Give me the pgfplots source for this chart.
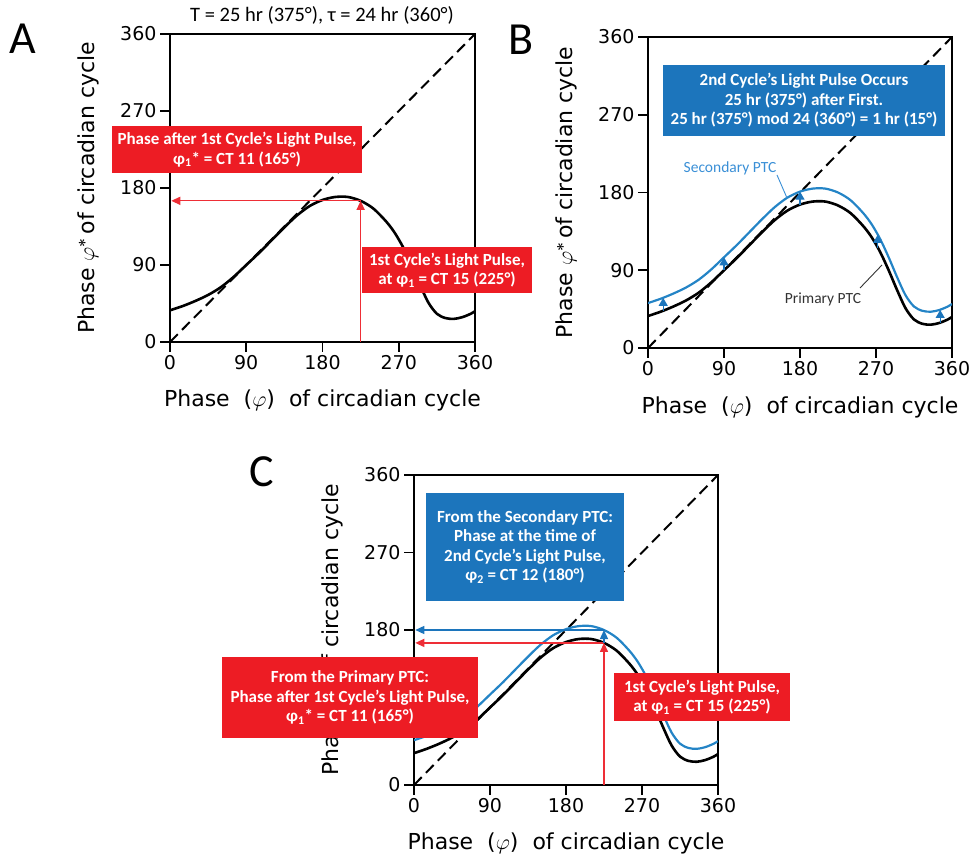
\RequirePackage{fix-cm}
\documentclass[border=0pt]{standalone}
\usepackage{amsmath}
\usepackage{fontspec}
\usepackage{pgfplots}
\usepackage{pgfplotstable}
\pgfplotsset{compat=1.18}
\usetikzlibrary{arrows.meta}

\newfontfamily\dejavu{DejaVu Sans}
\newfontfamily\carlito{Carlito}
\newcommand\axfont{\dejavu\fontsize{19}{22}\selectfont}
\newcommand\lblfont{\dejavu\fontsize{22}{26}\selectfont}
\newcommand\boxfont{\carlito\bfseries\fontsize{17}{19.5}\selectfont}
\newcommand\notefont{\carlito\fontsize{15.5}{18}\selectfont}
\newcommand\titlefont{\carlito\fontsize{20.5}{23}\selectfont}
\newcommand\panelfont{\carlito\fontsize{46}{50}\selectfont}

\definecolor{boxred}{HTML}{ED1C24}
\definecolor{arrred}{HTML}{EE2E36}
\definecolor{boxblue}{HTML}{1C75BC}
\definecolor{ptcblue}{HTML}{2484C6}
\definecolor{lblblue}{HTML}{3A8FD6}
\definecolor{lblgray}{HTML}{333333}

% primary phase transition curve: new phase vs. phase of the pulse
\pgfplotstableread{
x y
0 37
15 42
30 48
45 55
60 64
75 76
90 90
105 104
120 119
135 134
150 148
165 159
180 166
195 169.5
210 169.5
225 165
240 156
255 141
265 128
275 111
285 90
295 67
305 46
315 33
325 28
335 27
345 29
355 33
360 36
}\primary

% secondary curve: primary shifted by 1 hr (15 deg)
\pgfplotstableread{
x y
0 52
15 57
30 63
45 70
60 79
75 91
90 105
105 119
120 134
135 149
150 163
165 174
180 181
195 184.5
210 184.5
225 180
240 171
255 156
265 143
275 126
285 105
295 82
305 61
315 48
325 43
335 42
345 44
355 48
360 51
}\secondary

% shift arrows from the primary to the secondary curve
\pgfplotstableread{
x y u v
18 43 0 15
90 90 0 15
180 166 0 15
272 116 0 15
346 29 0 15
}\shifts

\pgfplotsset{
  ptc/.style={
    scale only axis, anchor=south west,
    xmin=0, xmax=360, ymin=0, ymax=360,
    xtick={0,90,180,270,360}, ytick={0,90,180,270,360},
    tick align=outside, xtick pos=left, ytick pos=left,
    major tick length=10pt,
    axis line style={line width=2pt},
    every tick/.style={black, line width=1.8pt},
    tick label style={font=\axfont},
    /pgf/number format/assume math mode=true,
    xlabel={Phase\ \ ($\varphi$)\ \ of circadian cycle},
    ylabel={Phase $\varphi^{\boldsymbol{\ast}}$\,of circadian cycle},
    label style={font=\lblfont},
    xlabel style={at={(axis description cs:0.5,-0.19)}, anchor=center},
    ylabel style={at={(axis description cs:-0.269,0.5)}, anchor=center},
  },
  diag/.style={black, line width=2pt, dash pattern=on 11pt off 6pt, forget plot},
  prim/.style={black, line width=2.6pt, smooth, tension=0.5, forget plot},
  seco/.style={ptcblue, line width=2.2pt, smooth, tension=0.5, forget plot},
  redarr/.style={arrred, line width=1.3pt, -{Triangle[length=9pt,width=8pt]}, forget plot},
  bluarr/.style={boxblue, line width=1.3pt, -{Triangle[length=9pt,width=8pt]}, forget plot},
}

\begin{document}
\begin{tikzpicture}[x=1pt, y=1pt]
\useasboundingbox (0,0) rectangle (972,857);

% ---------------- panel A ----------------
\begin{axis}[ptc, at={(170pt,515pt)}, width=305pt, height=308pt]
  \addplot[diag] coordinates {(0,0) (360,360)};
  \addplot[prim] table[x=x, y=y] {\primary};
  \addplot[redarr] coordinates {(225,0) (225,165)};
  \addplot[redarr] coordinates {(225,165) (1.5,165)};
\end{axis}

% ---------------- panel B ----------------
\begin{axis}[ptc, at={(648pt,509pt)}, width=304pt, height=311pt]
  \addplot[diag] coordinates {(0,0) (360,360)};
  \addplot[prim] table[x=x, y=y] {\primary};
  \addplot[seco] table[x=x, y=y] {\secondary};
  \addplot[boxblue, line width=1.2pt, -{Triangle[length=8pt,width=9pt]},
    quiver={u=\thisrow{u}, v=\thisrow{v}}, forget plot]
    table[x=x, y=y] {\shifts};
\end{axis}

% ---------------- panel C ----------------
\begin{axis}[ptc, at={(414pt,72pt)}, width=304pt, height=310pt]
  \addplot[diag] coordinates {(0,0) (360,360)};
  \addplot[prim] table[x=x, y=y] {\primary};
  \addplot[seco] table[x=x, y=y] {\secondary};
  \addplot[redarr] coordinates {(225,0) (225,165)};
  \addplot[redarr] coordinates {(225,165) (1.5,165)};
  \addplot[bluarr] coordinates {(225,165) (225,180)};
  \addplot[bluarr] coordinates {(225,180) (1.5,180)};
\end{axis}

% ---------------- titles and panel letters ----------------
\node[font=\titlefont] at (322,842) {T = 25 hr (375°), τ = 24 hr (360°)};
\node[font=\panelfont] at (23,818) {A};
\node[font=\panelfont] at (521,817) {B};
\node[font=\panelfont] at (262,385) {C};

% ---------------- annotations, panel A ----------------
\fill[boxred] (112,684) rectangle (362,731);
\node[font=\boxfont, text=white, align=center] at (237,707.5)
  {Phase after 1st Cycle’s Light Pulse,\\φ\textsubscript{1}* = CT 11 (165°)};
\fill[boxred] (362,564) rectangle (532,610);
\node[font=\boxfont, text=white, align=center] at (447,587)
  {1st Cycle’s Light Pulse,\\at φ\textsubscript{1} = CT 15 (225°)};

% ---------------- annotations, panel B ----------------
\fill[boxblue] (663,721) rectangle (945,792);
\node[font=\boxfont, text=white, align=center] at (804,756.5)
  {2nd Cycle’s Light Pulse Occurs\\25 hr (375°) after First.\\25 hr (375°) mod 24 (360°) = 1 hr (15°)};
\node[font=\notefont, text=lblblue] at (730,689) {Secondary PTC};
\draw[lblblue, line width=0.9pt] (777,682) -- (787,659);
\node[font=\notefont, text=lblgray] at (823,558) {Primary PTC};
\draw[lblgray, line width=0.9pt] (860,569) -- (882,592);

% ---------------- annotations, panel C ----------------
\fill[boxblue] (426,256) rectangle (624,364);
\node[font=\boxfont, text=white, align=center] at (525,310)
  {From the Secondary PTC:\\Phase at the time of\\2nd Cycle’s Light Pulse,\\φ\textsubscript{2} = CT 12 (180°)};
\fill[boxred] (222,119) rectangle (478,200);
\node[font=\boxfont, text=white, align=center] at (350,159.5)
  {From the Primary PTC:\\Phase after 1st Cycle’s Light Pulse,\\φ\textsubscript{1}* = CT 11 (165°)};
\fill[boxred] (614,136) rectangle (790,184);
\node[font=\boxfont, text=white, align=center] at (702,160)
  {1st Cycle’s Light Pulse,\\at φ\textsubscript{1} = CT 15 (225°)};
\end{tikzpicture}
\end{document}
